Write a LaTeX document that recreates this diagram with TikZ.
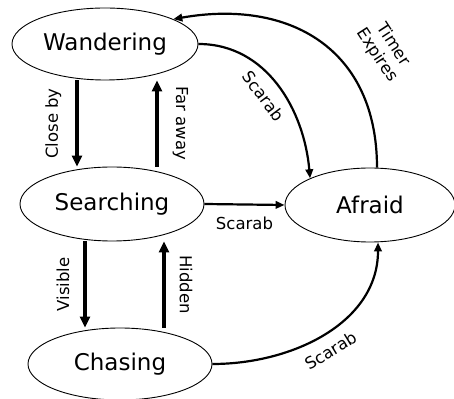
\documentclass[tikz,border=0pt]{standalone}
\usepackage{fontspec}
\setmainfont{DejaVu Sans}
\usepackage{tikz}
\usetikzlibrary{arrows.meta,positioning,shapes.geometric}

\begin{document}
\begin{tikzpicture}[
    x=1pt, y=1pt,
    state/.style={draw, ellipse, line width=0.9pt, inner sep=0pt, font=\fontsize{23}{26}\selectfont},
    lbl/.style={font=\fontsize{16.5}{19}\selectfont, inner sep=2pt},
    side/.style={lbl, rotate=#1, anchor=south, yshift=12pt},
    thk/.style={-{Triangle[length=11pt,width=10pt]}, line width=3.4pt},
    arr/.style={-{Triangle[length=9pt,width=7.5pt]}, line width=2.2pt}
  ]
    \useasboundingbox (0,0) rectangle (454,398);
    \node[state, minimum width=186, minimum height=72] (wand) at (105,354) {Wandering};
    \node[state, minimum width=184, minimum height=74] (srch) at (112,194) {Searching};
    \node[state, minimum width=170, minimum height=74] (afr) at (370,193) {Afraid};
    \node[state, minimum width=184, minimum height=72] (chas) at (120,34) {Chasing};
    \draw[thk] ([xshift=-28pt]wand.south) -- node[side=90] {Close by} ([xshift=-35pt]srch.north);
    \draw[thk] ([xshift=45pt]srch.north) -- node[side=-90] {Far away} ([xshift=52pt]wand.south);
    \draw[thk] ([xshift=-27pt]srch.south) -- node[side=90] {Visible} ([xshift=-35pt]chas.north);
    \draw[thk] ([xshift=44pt]chas.north) -- node[side=-90] {Hidden} ([xshift=52pt]srch.south);
    \draw[arr] (srch.east) -- node[lbl, below=9pt] {Scarab} (afr.west);
    \draw[arr] (wand.east) to[out=0, in=95] node[lbl, sloped, below=8pt, pos=.5] {Scarab} (afr.156);
    \draw[arr] ([xshift=7pt]afr.north) to[out=90, in=10, looseness=1.2] (wand.20);
    \node[lbl, rotate=-57, align=center] (timer) at (385,348) {Timer\\Expires};
    \draw[arr] (chas.east) to[out=0, in=-90] node[lbl, sloped, below=8pt, pos=.48] {Scarab} ([xshift=8pt]afr.south);
  \end{tikzpicture}
\end{document}
